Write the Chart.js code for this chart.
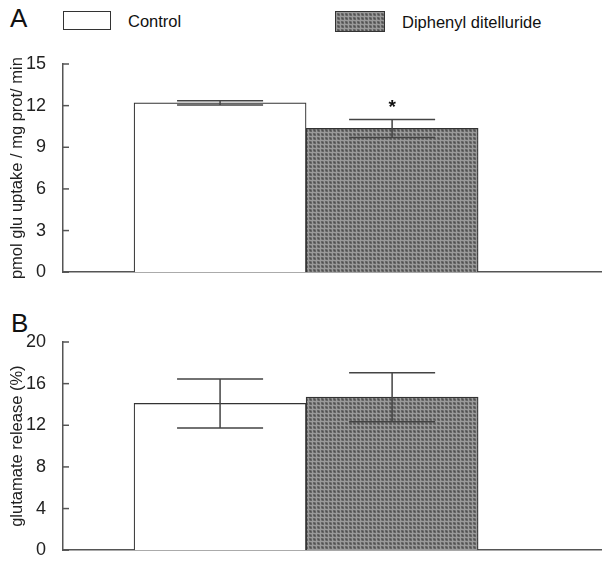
<!DOCTYPE html>
<html>
<head>
<meta charset="utf-8">
<script src="https://cdn.jsdelivr.net/npm/chart.js@4/dist/chart.umd.min.js"></script>
<style>
  body{margin:0;background:#fff;font-family:"Liberation Sans",Arial,sans-serif;color:#111}
  #wrap{position:relative;width:602px;height:562px;overflow:hidden}
  .panel{position:absolute;font-size:26px}
  .lg-box{position:absolute;width:48px;height:19px;border:1px solid #333;box-sizing:border-box}
  .lg-txt{position:absolute;font-size:16.5px}
  canvas{position:absolute;left:0}
</style>
</head>
<body>
<div id="wrap">
  <div class="panel" style="left:10px;top:3px">A</div>
  <div class="panel" style="left:11px;top:308px">B</div>
  <div class="lg-box" style="left:63px;top:11px;background:#fff"></div>
  <div class="lg-txt" style="left:128px;top:12px">Control</div>
  <canvas id="swatch" width="48" height="19" style="left:335px;top:11px;border:1px solid #333;box-sizing:border-box"></canvas>
  <div class="lg-txt" style="left:402px;top:13px">Diphenyl ditelluride</div>
  <div style="position:absolute;left:0;top:40px;width:602px;height:252px"><canvas id="chartA"></canvas></div>
  <div style="position:absolute;left:0;top:305px;width:602px;height:265px"><canvas id="chartB"></canvas></div>
</div>
<script>
/* ── DATA ───────────────────────────────────────────── */
const groups     = ['Control','Diphenyl ditelluride'];
const groupPos   = [1, 2];
const uptakeMean = [12.2, 10.36];
const uptakeSem  = [0.15, 0.65];
const uptakeSig  = ['', '*'];
const uptakeTicks = [0, 3, 6, 9, 12, 15];
const releaseMean = [14.1, 14.7];
const releaseSem  = [2.35, 2.35];
const releaseSig  = ['', ''];
const releaseTicks = [0, 4, 8, 12, 16, 20];

/* ── PATTERN ────────────────────────────────────────── */
function makePattern(ctx){
  const t=document.createElement('canvas'); t.width=4; t.height=4;
  const c=t.getContext('2d');
  c.fillStyle='#666'; c.fillRect(0,0,4,4);
  c.fillStyle='#9a9a9a'; c.fillRect(0,0,4,1); c.fillRect(0,0,1,4);
  c.fillStyle='#505050'; c.fillRect(2,2,1,1);
  c.fillStyle='#808080'; c.fillRect(3,1,1,1); c.fillRect(1,3,1,1);
  return ctx.createPattern(t,'repeat');
}
const sw=document.getElementById('swatch').getContext('2d');
sw.fillStyle=makePattern(sw); sw.fillRect(0,0,48,19);

/* ── PLUGINS ────────────────────────────────────────── */
const errorBars = {
  id:'errorBars',
  afterDatasetsDraw(chart, args, opts){
    const {ctx, scales:{y}} = chart;
    const meta = chart.getDatasetMeta(0);
    ctx.save();
    ctx.strokeStyle='#444'; ctx.lineWidth=1.5;
    meta.data.forEach((bar,i)=>{
      const m=opts.mean[i], s=opts.sem[i];
      const hi=y.getPixelForValue(m+s), lo=y.getPixelForValue(m-s);
      const hw=bar.width/4;
      ctx.beginPath();
      ctx.moveTo(bar.x,hi); ctx.lineTo(bar.x,lo);
      ctx.moveTo(bar.x-hw,hi); ctx.lineTo(bar.x+hw,hi);
      ctx.moveTo(bar.x-hw,lo); ctx.lineTo(bar.x+hw,lo);
      ctx.stroke();
      if(opts.sig[i]){
        ctx.fillStyle='#111'; ctx.font='bold 19px "Liberation Sans", Arial';
        ctx.textAlign='center'; ctx.textBaseline='middle';
        ctx.fillText(opts.sig[i], bar.x, hi-12);
      }
    });
    ctx.restore();
  }
};
const innerTicks = {
  id:'innerTicks',
  afterDraw(chart){
    const {ctx, scales:{y}} = chart;
    ctx.save(); ctx.strokeStyle='#555'; ctx.lineWidth=1.5;
    y.ticks.forEach(t=>{
      const py=y.getPixelForValue(t.value);
      ctx.beginPath(); ctx.moveTo(y.right,py); ctx.lineTo(y.right+6,py); ctx.stroke();
    });
    ctx.restore();
  }
};

/* ── CHARTS ─────────────────────────────────────────── */
function makeChart(id, mean, sem, sig, ticks, title, padTop, padBottom){
  const ctx=document.getElementById(id).getContext('2d');
  const pat=makePattern(ctx);
  return new Chart(ctx,{
    type:'bar',
    data:{
      datasets:[{
        data:groupPos.map((x,i)=>({x:x,y:mean[i]})),
        backgroundColor:['#fff',pat],
        borderColor:'#333', borderWidth:1.2,
        categoryPercentage:1, barPercentage:1
      }]
    },
    options:{
      responsive:true, maintainAspectRatio:false, animation:false,
      layout:{padding:{top:padTop,bottom:padBottom,left:0,right:0}},
      plugins:{legend:{display:false},tooltip:{enabled:false},
        errorBars:{mean:mean,sem:sem,sig:sig}},
      scales:{
        x:{type:'linear',min:0.087,max:3.22,offset:false,
          afterBuildTicks:s=>{s.ticks=groupPos.map(v=>({value:v}));},
          ticks:{display:false},grid:{display:false},
          border:{color:'#555',width:1.5},
          afterFit:s=>{s.height=0;}},
        y:{min:ticks[0],max:ticks[ticks.length-1],
          afterBuildTicks:s=>{s.ticks=ticks.map(v=>({value:v}));},
          ticks:{padding:9,color:'#222',font:{family:'"Liberation Sans", Arial',size:18}},
          grid:{display:false},
          border:{color:'#555',width:1.5},
          title:{display:true,text:title,color:'#222',padding:{top:8,bottom:0},
            font:{family:'"Liberation Sans", Arial',size:16.5}},
          afterFit:s=>{s.width=63;}}
      }
    },
    plugins:[errorBars,innerTicks]
  });
}
makeChart('chartA', uptakeMean, uptakeSem, uptakeSig, uptakeTicks, 'pmol glu uptake / mg prot/ min', 24, 12);
makeChart('chartB', releaseMean, releaseSem, releaseSig, releaseTicks, 'glutamate release (%)', 37, 12);
</script>
</body>
</html>
